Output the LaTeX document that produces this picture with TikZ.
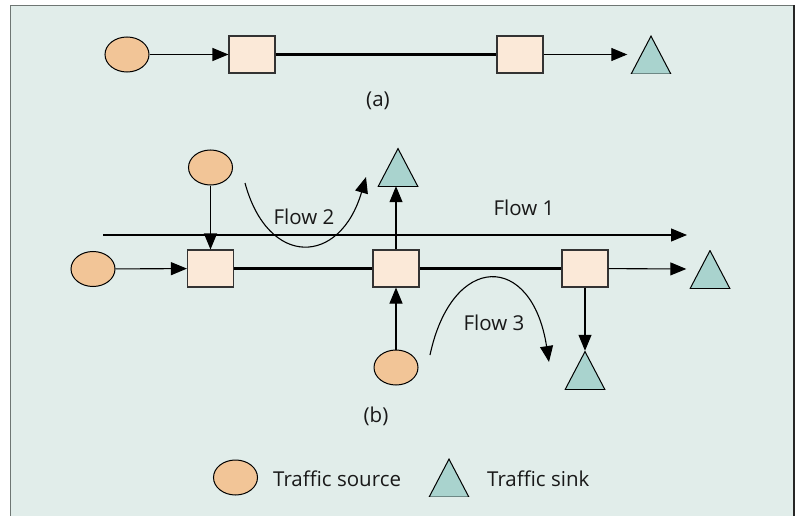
\documentclass[tikz,border=0pt]{standalone}
\usepackage{fontspec}
\setmainfont{Open Sans}
\usetikzlibrary{arrows.meta,shapes.geometric}
\definecolor{bgc}{HTML}{E1EDEA}
\definecolor{framec}{HTML}{6E7673}
\definecolor{srcc}{HTML}{F2C597}
\definecolor{boxc}{HTML}{FBE9D8}
\definecolor{sinkc}{HTML}{A9D3CE}
\tikzset{
  src/.style={ellipse, draw=black, line width=1pt, fill=srcc, minimum width=44pt, minimum height=35pt, inner sep=0pt},
  router/.style={rectangle, draw=black!80, line width=1.1pt, fill=boxc, minimum width=46pt, minimum height=37pt, inner sep=0pt},
  sink/.style={rectangle, minimum width=41pt, minimum height=38pt, inner sep=0pt,
    path picture={\filldraw[fill=sinkc, draw=black, line width=1pt]
      ([shift={(0.6pt,-0.6pt)}]path picture bounding box.south west) --
      ([shift={(0pt,-0.6pt)}]path picture bounding box.north) --
      ([shift={(-0.6pt,-0.6pt)}]path picture bounding box.south east) -- cycle;}},
  conn/.style={line width=1.1pt, -{Triangle[length=16pt,width=13pt]}},
  trunk/.style={line width=2.5pt},
  lbl/.style={font=\fontsize{20.5}{24}\selectfont, inner sep=0pt, text=black!90}
}
\begin{document}
\begin{tikzpicture}[x=1pt,y=-1pt]
\useasboundingbox (0,0) rectangle (798,516);
\fill[bgc] (10.5,5.5) rectangle (794,516);
\draw[framec, line width=1.6pt] (10.5,516) -- (10.5,5.5) -- (794,5.5);
\draw[black!85, line width=1.6pt] (794,5.5) -- (794,516);

% (a)
\node[src] (as) at (127,54.5) {};
\node[router] (ar1) at (252,54.5) {};
\node[router] (ar2) at (520,54.5) {};
\node[sink] (ak) at (651,54.5) {};
\draw[conn] (as) -- (ar1);
\draw[trunk] (ar1) -- (ar2);
\draw[conn, shorten >=3pt] (ar2) -- (ak.west);
\node[lbl] (la) at (378,101) {(a)};

% (b)
\node[src] (bs1) at (93,269) {};
\node[src] (bs2) at (210.5,167.5) {};
\node[src] (bs3) at (396,367.5) {};
\node[router] (br1) at (210.5,268.5) {};
\node[router] (br2) at (396,268.5) {};
\node[router] (br3) at (585,268.5) {};
\node[sink] (bk1) at (398,167) {};
\node[sink] (bk2) at (710,269) {};
\node[sink] (bk3) at (585,370) {};
\draw[conn] (bs1) -- (br1);
\draw[conn] (bs2) -- (br1);
\draw[conn] (bs3) -- (br2);
\draw[conn] (br2) -- (br2 |- bk1.south);
\draw[conn] (br3) -- (bk3.north);
\draw[trunk] (br1) -- (br2);
\draw[trunk] (br2) -- (br3);
\draw[conn, shorten >=3pt] (br3) -- (bk2.west);

% flows
\coordinate (f1s) at (103,235);
\coordinate (f1e) at (687,235);
\draw[conn] (f1s) -- (f1e);
\node[lbl] (l1) at (524,208) {Flow 1};

\coordinate (f2s) at (245,183);
\coordinate (f2e) at (366,177);
\draw[conn] (f2s) .. controls (268,268) and (340,266) .. (f2e);
\node[lbl] (l2) at (304,217) {Flow 2};

\coordinate (f3s) at (430,355);
\coordinate (f3e) at (549,362);
\draw[conn] (f3s) .. controls (452,252) and (532,252) .. (f3e);
\node[lbl] (l3) at (494,323) {Flow 3};

\node[lbl] (lb) at (376,416) {(b)};

% legend
\node[src] (gs) at (235.5,477.5) {};
\node[lbl, anchor=west] (gst) at (273,479) {Traffic source};
\node[sink] (gk) at (449,477.5) {};
\node[lbl, anchor=west] (gkt) at (487,479) {Traffic sink};
\end{tikzpicture}
\end{document}
